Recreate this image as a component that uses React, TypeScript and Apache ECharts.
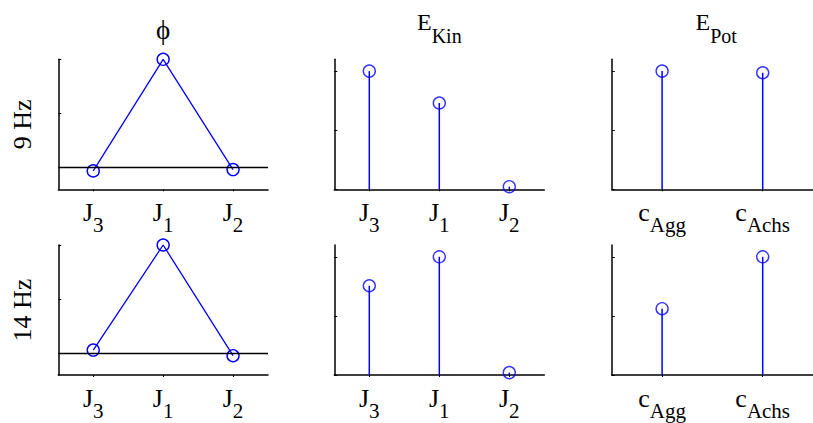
import React, { useEffect, useRef } from "react";
import * as echarts from "echarts";

// Category labels: base letter and subscript separated by "_"
const jointCategories = ["J_3", "J_1", "J_2"];
const springCategories = ["c_Agg", "c_Achs"];

// Mode shape phi (normalised), per frequency
const phi9Hz = [-0.03, 1.0, -0.018];
const phi14Hz = [0.03, 1.0, -0.022];

// Kinetic energy share per joint
const eKin9Hz = [1.0, 0.73, 0.022];
const eKin14Hz = [0.755, 1.0, 0.02];

// Potential energy share per spring
const ePot9Hz = [1.0, 0.986];
const ePot14Hz = [0.561, 1.0];

const rowLabels = ["9 Hz", "14 Hz"];
const columnTitles = [
  { main: "ϕ", sub: "" },
  { main: "E", sub: "Kin" },
  { main: "E", sub: "Pot" },
];

const FONT = "'Liberation Serif', 'Times New Roman', serif";
const BLUE = "#0000ff";
const BLACK = "#000000";

const gridLefts = [58.3, 334.3, 611.8];
const gridWidths = [209.7, 210, 208.7];
const gridTops = [59.3, 245];
const gridHeight = 130;

const subRich = {
  m: { fontSize: 26, fontFamily: FONT, color: BLACK, lineHeight: 36, verticalAlign: "top" as const },
  s: { fontSize: 21, fontFamily: FONT, color: BLACK, lineHeight: 36, verticalAlign: "bottom" as const },
};

function subLabel(v: string) {
  const [a, b] = v.split("_");
  return `{m|${a}}{s|${b}}`;
}

export default function App() {
  const ref = useRef<HTMLDivElement>(null);

  useEffect(() => {
    if (!ref.current) return;
    const chart = echarts.init(ref.current, null, { renderer: "svg" });

    const phiRows = [phi9Hz, phi14Hz];
    const kinRows = [eKin9Hz, eKin14Hz];
    const potRows = [ePot9Hz, ePot14Hz];

    const grids: any[] = [];
    const xAxes: any[] = [];
    const yAxes: any[] = [];
    const series: any[] = [];

    const circleStyle = { color: "rgba(0,0,0,0)", borderColor: BLUE, borderWidth: 1.4 };

    for (let r = 0; r < 2; r++) {
      for (let c = 0; c < 3; c++) {
        const i = r * 3 + c;
        grids.push({
          left: gridLefts[c],
          top: gridTops[r],
          width: gridWidths[c],
          height: gridHeight,
          containLabel: false,
        });
        const cats = c === 2 ? springCategories : jointCategories;
        xAxes.push({
          type: "category",
          gridIndex: i,
          data: cats,
          boundaryGap: true,
          axisLine: { show: true, onZero: false, lineStyle: { color: BLACK, width: 1.5 } },
          axisTick: { show: true, alignWithLabel: true, length: 2, lineStyle: { color: BLACK, width: 1 } },
          axisLabel: {
            interval: 0,
            margin: 10,
            formatter: subLabel,
            rich: subRich,
          },
          splitLine: { show: false },
        });
        const isPhi = c === 0;
        yAxes.push({
          type: "value",
          gridIndex: i,
          min: isPhi ? -0.2 : 0,
          max: isPhi ? 1 : 1.1,
          interval: 0.5,
          name: isPhi ? rowLabels[r] : "",
          nameLocation: "middle",
          nameRotate: 90,
          nameGap: 23,
          nameTextStyle: { fontFamily: FONT, fontSize: 26, color: BLACK },
          axisLine: { show: true, onZero: false, lineStyle: { color: BLACK, width: 1.5 } },
          axisTick: {
            show: true,
            inside: true,
            length: 3,
            lineStyle: { color: BLACK, width: 1 },
            customValues: [0, 0.5, 1],
          },
          axisLabel: { show: false },
          splitLine: { show: false },
        });

        if (isPhi) {
          series.push({
            type: "line",
            xAxisIndex: i,
            yAxisIndex: i,
            data: phiRows[r],
            symbol: "circle",
            symbolSize: 12,
            showAllSymbol: true,
            itemStyle: circleStyle,
            lineStyle: { color: BLUE, width: 1.3 },
            clip: false,
            markLine: {
              silent: true,
              symbol: ["none", "none"],
              label: { show: false },
              lineStyle: { color: BLACK, width: 1.3, type: "solid" },
              data: [{ yAxis: 0 }],
            },
          });
        } else {
          const vals = c === 1 ? kinRows[r] : potRows[r];
          series.push({
            type: "bar",
            xAxisIndex: i,
            yAxisIndex: i,
            data: vals,
            barWidth: 1.5,
            itemStyle: { color: BLUE },
          });
          series.push({
            type: "scatter",
            xAxisIndex: i,
            yAxisIndex: i,
            data: vals,
            symbol: "circle",
            symbolSize: 12,
            itemStyle: circleStyle,
            clip: false,
          });
        }
      }
    }

    const graphics: any[] = columnTitles.map((t, c) => ({
      type: "text",
      x: gridLefts[c] + gridWidths[c] / 2,
      y: t.sub ? 10 : 16,
      style: {
        text: t.sub ? `{m|${t.main}}{s|${t.sub}}` : `{m|${t.main}}`,
        align: "center",
        verticalAlign: "top",
        rich: {
          m: { fontSize: t.sub ? 24 : 27, fontFamily: FONT, fill: BLACK, lineHeight: 36, verticalAlign: "top" },
          s: { fontSize: 20, fontFamily: FONT, fill: BLACK, lineHeight: 36, verticalAlign: "bottom" },
        },
      },
    }));

    chart.setOption({
      animation: false,
      backgroundColor: "#ffffff",
      textStyle: { fontFamily: FONT },
      grid: grids,
      xAxis: xAxes,
      yAxis: yAxes,
      series,
      graphic: graphics,
    });

    return () => chart.dispose();
  }, []);

  return (
    <div
      ref={ref}
      style={{ position: "absolute", left: 0, top: 0, width: 813, height: 423, background: "#fff" }}
    />
  );
}
